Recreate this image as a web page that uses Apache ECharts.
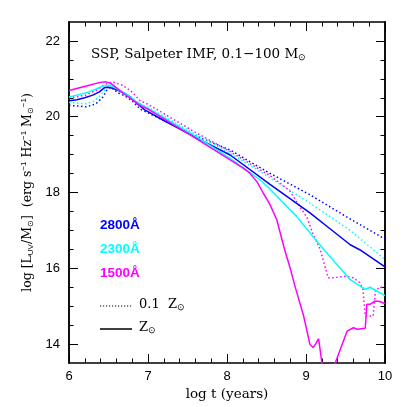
<!DOCTYPE html>
<html>
<head>
<meta charset="utf-8">
<script src="https://cdn.jsdelivr.net/npm/echarts@6/dist/echarts.min.js"></script>
<style>
  html, body { margin: 0; padding: 0; background: #fff; }
  #uv { width: 407px; height: 407px; }
</style>
</head>
<body>
<div id="uv"></div>
<script>
// SSP UV luminosity vs age, [log t, log L] pairs
var uv2800Solar = [[6.0,20.42],[6.1,20.45],[6.2,20.5],[6.3,20.57],[6.38,20.65],[6.45,20.77],[6.5,20.78],[6.55,20.75],[6.62,20.7],[6.7,20.62],[6.77,20.53],[6.86,20.35],[6.96,20.18],[7.2,19.9],[7.59,19.47],[8.04,18.99],[8.54,18.22],[9.05,17.46],[9.3,17.05],[9.56,16.62],[9.68,16.49],[10,16.04]]
var uv2800Low = [[6.0,20.3],[6.13,20.28],[6.22,20.26],[6.34,20.34],[6.43,20.52],[6.49,20.74],[6.53,20.78],[6.62,20.63],[6.7,20.56],[6.8,20.42],[6.9,20.2],[7.2,19.9],[7.6,19.5],[8.04,19.12],[8.54,18.51],[9.05,17.94],[9.56,17.3],[10,16.77]]
var uv2300Solar = [[6.0,20.52],[6.1,20.57],[6.22,20.63],[6.33,20.72],[6.43,20.81],[6.49,20.84],[6.55,20.8],[6.65,20.68],[6.75,20.56],[6.85,20.4],[7.0,20.22],[7.59,19.5],[8.04,18.9],[8.42,18.33],[8.54,18.1],[8.88,17.37],[9.15,16.68],[9.56,15.7],[9.75,15.44],[9.81,15.5],[9.88,15.42],[10,15.28]]
var uv2300Low = [[6.0,20.38],[6.1,20.36],[6.22,20.34],[6.3,20.4],[6.38,20.52],[6.45,20.7],[6.5,20.82],[6.53,20.84],[6.6,20.76],[6.7,20.63],[6.8,20.5],[6.9,20.33],[7.0,20.25],[7.59,19.55],[8.04,19.04],[8.65,18.25],[9.05,17.72],[9.56,17.0],[10,16.23]]
var uv1500Solar = [[6.0,20.69],[6.22,20.81],[6.38,20.9],[6.47,20.92],[6.53,20.88],[6.59,20.78],[6.7,20.6],[6.8,20.45],[6.9,20.3],[7.0,20.2],[7.59,19.45],[8.04,18.86],[8.2,18.65],[8.29,18.51],[8.38,18.28],[8.46,17.98],[8.54,17.7],[8.63,17.28],[8.73,16.49],[8.8,16.0],[8.86,15.53],[8.97,14.74],[9.05,13.99],[9.09,13.91],[9.12,14.0],[9.16,14.14],[9.2,13.52],[9.25,13.0],[9.33,13.0],[9.37,13.5],[9.45,13.95],[9.52,14.34],[9.6,14.43],[9.65,14.39],[9.75,14.42],[9.77,15.05],[9.81,15.05],[9.87,15.13],[9.92,15.13],[10,15.07]]
var uv1500Low = [[6.0,20.5],[6.2,20.56],[6.35,20.7],[6.45,20.85],[6.55,20.92],[6.68,20.83],[6.8,20.65],[6.9,20.42],[7.0,20.33],[7.59,19.6],[8.04,19.08],[8.54,18.45],[8.67,18.25],[8.8,18.03],[8.92,17.63],[9.01,17.35],[9.09,16.9],[9.18,16.5],[9.28,15.75],[9.34,15.75],[9.51,15.79],[9.6,15.75],[9.68,15.62],[9.72,15.45],[9.75,14.74],[9.85,14.74],[9.88,15.44],[10,15.53]]

var yMajor = [14, 16, 18, 20, 22]
var yMinor = [14.5, 15, 15.5, 16.5, 17, 17.5, 18.5, 19, 19.5, 20.5, 21, 21.5]
var bandNames = ['2800Å', '2300Å', '1500Å']
var bandColors = ['#0000ff', '#00ffff', '#ff00ff']

var chart = echarts.init(document.getElementById('uv'))

var serif = 'DejaVu Serif'
var sans = 'Liberation Sans'

function xAx(pos, labels) {
  return {
    type: 'value', position: pos, min: 6, max: 10, interval: 1,
    axisLine: { show: true, onZero: false, lineStyle: { color: '#000', width: 1.5 } },
    axisTick: { show: true, inside: true, length: 9, lineStyle: { color: '#000', width: 1 } },
    minorTick: { show: true, splitNumber: 5, length: 4.5, lineStyle: { color: '#000', width: 1 } },
    axisLabel: { show: labels, margin: 7, color: '#000', fontFamily: sans, fontSize: 13 },
    splitLine: { show: false },
    name: labels ? 'log t (years)' : '',
    nameLocation: 'middle', nameGap: 24,
    nameTextStyle: { color: '#000', fontFamily: serif, fontSize: 13.5 }
  }
}

function yAx(pos, ticks, len, labels) {
  return {
    type: 'value', position: pos, min: 13.5, max: 22.5,
    axisLine: { show: true, onZero: false, lineStyle: { color: '#000', width: 1.5 } },
    axisTick: { show: true, inside: true, length: len, customValues: ticks, lineStyle: { color: '#000', width: 1 } },
    axisLabel: { show: labels, customValues: yMajor, margin: 9, color: '#000', fontFamily: sans, fontSize: 13 },
    splitLine: { show: false },
    name: labels ? '{t|log [L}{s|UV}{t|/M}{s|⊙}{t|]  (erg s}{u|−1}{t| Hz}{u|−1}{t| M}{s|⊙}{u|−1}{t|)}' : '',
    nameLocation: 'middle', nameGap: 32, nameRotate: 90,
    nameTextStyle: {
      color: '#000',
      rich: {
        t: { fontFamily: serif, fontSize: 12.5, color: '#000' },
        s: { fontFamily: sans, fontSize: 8, color: '#000', padding: [6, 0, 0, 0] },
        u: { fontFamily: sans, fontSize: 8, color: '#000', padding: [0, 0, 7, 0] }
      }
    }
  }
}

function line(data, color, dotted) {
  return {
    type: 'line', data: data, symbol: 'none', clip: true, silent: true,
    lineStyle: { color: color, width: 1.5, type: dotted ? [1.5, 2.5] : 'solid' },
    z: dotted ? 2 : 3
  }
}

var graphics = [
  {
    type: 'text', left: 91, top: 47,
    style: {
      text: '{t|SSP, Salpeter IMF, 0.1−100 M}{s|⊙}',
      rich: {
        t: { fontFamily: serif, fontSize: 13.5, fill: '#000' },
        s: { fontFamily: sans, fontSize: 9, fill: '#000', padding: [7, 0, 0, 0] }
      }
    }
  },
  { type: 'line', shape: { x1: 100, y1: 306, x2: 133, y2: 306 }, style: { stroke: '#000', lineWidth: 1.2, lineDash: [1.2, 1.8] } },
  { type: 'line', shape: { x1: 100, y1: 329, x2: 132, y2: 329 }, style: { stroke: '#000', lineWidth: 1.5 } },
  {
    type: 'text', left: 139, top: 298,
    style: {
      text: '{t|0.1  Z}{s|⊙}',
      rich: {
        t: { fontFamily: serif, fontSize: 13, fill: '#000' },
        s: { fontFamily: sans, fontSize: 9, fill: '#000', padding: [7, 0, 0, 0] }
      }
    }
  },
  {
    type: 'text', left: 139, top: 321,
    style: {
      text: '{t|Z}{s|⊙}',
      rich: {
        t: { fontFamily: serif, fontSize: 13, fill: '#000' },
        s: { fontFamily: sans, fontSize: 9, fill: '#000', padding: [7, 0, 0, 0] }
      }
    }
  }
]
for (var i = 0; i < bandNames.length; i++) {
  graphics.push({
    type: 'text', left: 100, top: 218 + i * 24,
    style: { text: bandNames[i], fill: bandColors[i], font: 'bold 13.5px Liberation Sans' }
  })
}

var option = {
  animation: false,
  backgroundColor: '#fff',
  grid: { left: 69, right: 22, top: 22, bottom: 44, containLabel: false },
  xAxis: [xAx('bottom', true), xAx('top', false)],
  yAxis: [
    yAx('left', yMinor, 4.5, true),
    yAx('left', yMajor, 9, false),
    yAx('right', yMinor, 4.5, false),
    yAx('right', yMajor, 9, false)
  ],
  graphic: graphics,
  series: [
    line(uv2800Low, bandColors[0], true),
    line(uv2300Low, bandColors[1], true),
    line(uv1500Low, bandColors[2], true),
    line(uv2800Solar, bandColors[0], false),
    line(uv2300Solar, bandColors[1], false),
    line(uv1500Solar, bandColors[2], false)
  ]
}
chart.setOption(option)
</script>
</body>
</html>
